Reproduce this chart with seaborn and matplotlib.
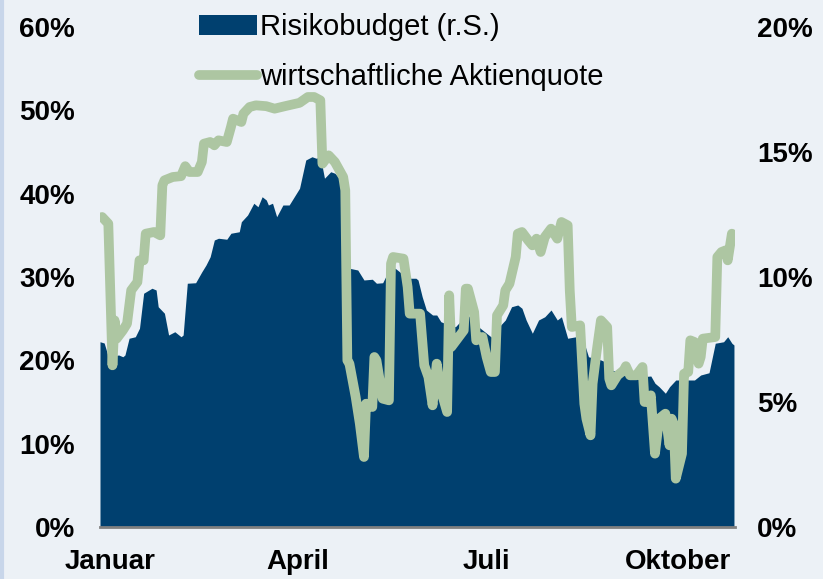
import matplotlib
matplotlib.use("Agg")
import matplotlib.pyplot as plt
import seaborn as sns
from matplotlib.lines import Line2D
from matplotlib.patches import Patch
from matplotlib.ticker import FuncFormatter

# Tage seit 1. Januar (negativ = Dezember des Vorjahres)
area_days = [-5, -3, -1, 4, 6, 7, 9, 12, 14, 16, 20, 22, 23, 26, 28, 31, 34, 35, 37, 41,
             44, 46, 48, 50, 52, 56, 58, 62, 63, 66, 69, 71, 73, 75, 76, 78, 80, 83, 86, 91,
             94, 97, 99, 101, 103, 106, 108, 111, 113, 115, 119, 122, 126, 128, 131, 134, 137, 140, 143, 147,
             148, 150, 152, 155, 157, 159, 163, 166, 169, 172, 176, 179, 182, 184, 187, 190, 193, 196, 198, 200,
             203, 206, 209, 212, 215, 217, 220, 224, 227, 230, 236, 238, 241, 244, 248, 251, 256, 260, 262, 264,
             267, 269, 272, 277, 281, 284, 288, 291, 295, 297, 299, 300]
risikobudget = [7.41, 7.36, 6.81, 6.88, 6.81, 6.88, 7.55, 7.61, 7.95, 9.35, 9.55, 9.48, 8.81, 8.55, 7.68, 7.81, 7.61, 7.68, 9.75, 9.77,
                10.21, 10.48, 10.81, 11.48, 11.55, 11.51, 11.75, 11.81, 12.21, 12.48, 12.95, 12.81, 13.21, 13.08, 12.88, 12.95, 12.41, 12.88, 12.88, 13.55,
                14.68, 14.81, 14.75, 14.81, 13.95, 14.21, 14.15, 13.88, 12.2, 10.35, 10.28, 9.88, 9.91, 9.75, 9.77, 10.28, 10.35, 10.15, 9.95, 9.95,
                9.88, 9.21, 8.68, 8.48, 8.48, 8.21, 8.08, 8.01, 8.28, 8.48, 8.08, 7.88, 7.68, 7.55, 8.01, 8.28, 8.81, 8.88, 8.75, 8.28,
                7.75, 8.28, 8.41, 8.68, 8.28, 8.41, 7.55, 7.61, 7.61, 6.81, 6.68, 6.61, 6.28, 6.21, 6.28, 6.15, 6.01, 6.04, 5.75, 5.61,
                5.35, 5.61, 5.88, 5.88, 5.88, 6.08, 6.17, 7.35, 7.41, 7.61, 7.35, 7.28]

line_days = [-4, -1, 1, 2, 3, 6, 8, 9, 10, 13, 14, 16, 17, 21, 24, 25, 26, 30, 34, 36,
             38, 42, 44, 45, 48, 50, 52, 56, 58, 59, 63, 64, 67, 70, 75, 79, 84, 91, 95, 98,
             101, 102, 105, 108, 112, 113, 114, 115, 118, 120, 122, 123, 126, 127, 128, 131, 134, 135, 136, 141,
             143, 144, 147, 149, 151, 153, 155, 157, 159, 162, 163, 164, 167, 170, 171, 172, 175, 176, 179, 181,
             183, 185, 186, 189, 190, 192, 195, 196, 198, 201, 203, 205, 207, 209, 212, 215, 217, 220, 221, 222,
             226, 228, 229, 231, 232, 234, 236, 239, 240, 241, 244, 247, 248, 250, 253, 256, 257, 259, 260, 262,
             264, 267, 269, 270, 271, 272, 275, 276, 278, 279, 281, 283, 284, 285, 291, 292, 294, 296, 297, 298,
             299, 300]
aktienquote = [37.2, 36.4, 19.4, 24.8, 22.6, 23.6, 24.4, 26.4, 28.4, 29.4, 32.0, 32.0, 35.2, 35.4, 35.0, 41.0, 41.6, 42.0, 42.1, 43.3,
               42.6, 42.6, 43.8, 46.0, 46.2, 45.8, 46.4, 46.2, 48.0, 49.0, 48.6, 49.6, 50.4, 50.6, 50.5, 50.2, 50.5, 50.9, 51.6, 51.6,
               51.2, 43.6, 44.6, 43.8, 42.0, 40.4, 20.0, 19.6, 15.6, 12.4, 8.4, 14.8, 14.4, 20.4, 20.0, 15.4, 15.2, 31.6, 32.4, 32.2,
               28.8, 25.6, 25.6, 25.6, 19.4, 18.0, 14.6, 19.6, 16.4, 13.8, 27.8, 21.6, 22.6, 23.6, 28.6, 28.6, 25.8, 22.4, 22.8, 20.4,
               18.6, 18.6, 25.4, 26.6, 28.4, 29.2, 32.4, 35.2, 35.4, 34.4, 33.8, 34.6, 33.0, 34.8, 35.8, 34.6, 36.6, 36.2, 28.4, 24.0,
               24.2, 14.8, 13.0, 11.0, 17.2, 21.2, 24.8, 24.0, 17.8, 17.0, 18.2, 18.8, 19.3, 18.2, 18.2, 19.2, 15.0, 15.0, 15.8, 8.8,
               13.0, 13.6, 9.8, 13.0, 12.4, 5.8, 8.8, 18.4, 18.6, 22.4, 22.2, 19.6, 20.4, 22.6, 22.8, 32.4, 33.0, 33.2, 32.0, 33.6,
               35.2, 35.0]

month_days = [0, 90, 181, 273]
month_labels = ["Januar", "April", "Juli", "Oktober"]
left_ticks = [0, 10, 20, 30, 40, 50, 60]
right_ticks = [0, 5, 10, 15, 20]

BG = "#ecf1f6"
BLUE = "#00406f"
GREEN = "#adc6a2"

sns.set_style("white", {"axes.facecolor": BG, "figure.facecolor": BG})
plt.rcParams["font.family"] = ["Liberation Sans", "DejaVu Sans"]
plt.rcParams["text.color"] = "black"

fig = plt.figure(figsize=(8.23, 5.79), dpi=100)
fig.patch.set_facecolor(BG)
ax = fig.add_axes([100 / 823, 1 - 527 / 579, 635 / 823, 500 / 579])
ax2 = ax.twinx()

# Flaeche (rechte Achse) hinter der Linie
ax2.fill_between(area_days, risikobudget, 0, color=BLUE, linewidth=0)
ax.set_zorder(ax2.get_zorder() + 1)
ax.patch.set_visible(False)
ax2.patch.set_facecolor(BG)

sns.lineplot(x=line_days, y=aktienquote, ax=ax, color=GREEN, linewidth=7,
             solid_joinstyle="round", solid_capstyle="round")

ax.set_xlim(-5, 300.5)
ax.set_ylim(0, 60)
ax2.set_ylim(0, 20)
ax.set_yticks(left_ticks)
ax2.set_yticks(right_ticks)
pct = FuncFormatter(lambda v, _: f"{v:.0f}%")
ax.yaxis.set_major_formatter(pct)
ax2.yaxis.set_major_formatter(pct)
ax.set_xticks(month_days)
ax.set_xticklabels(month_labels)

for a in (ax, ax2):
    for s in a.spines.values():
        s.set_visible(False)
ax.spines["bottom"].set_visible(True)
ax.spines["bottom"].set_color("#808080")
ax.spines["bottom"].set_linewidth(2)

ax.tick_params(axis="y", length=0, pad=18, labelsize=20, labelcolor="black")
ax.tick_params(axis="x", length=0, pad=16, labelsize=20, labelcolor="black")
ax2.tick_params(axis="y", length=0, pad=16, labelsize=20, labelcolor="black")
for lab in ax.get_xticklabels() + ax.get_yticklabels() + ax2.get_yticklabels():
    lab.set_fontweight("bold")
ax.set_xlabel("")
ax.set_ylabel("")

handles = [Patch(facecolor=BLUE, edgecolor="none"),
           Line2D([0], [0], color=GREEN, linewidth=7, solid_capstyle="round")]
leg = fig.legend(handles, ["Risikobudget (r.S.)", "wirtschaftliche Aktienquote"],
                 loc="upper left", bbox_to_anchor=(199 / 823, 1 - 13 / 579),
                 frameon=False, fontsize=21, handlelength=2.0, handleheight=0.7,
                 handletextpad=0.1, labelspacing=0.75, borderpad=0, borderaxespad=0)
for t in leg.get_texts():
    t.set_color("black")

fig.add_artist(Line2D([0.002, 0.002], [0, 1], color="#c8d6ea", linewidth=3,
                      transform=fig.transFigure))

fig.savefig("out.png", dpi=100, facecolor=BG)
